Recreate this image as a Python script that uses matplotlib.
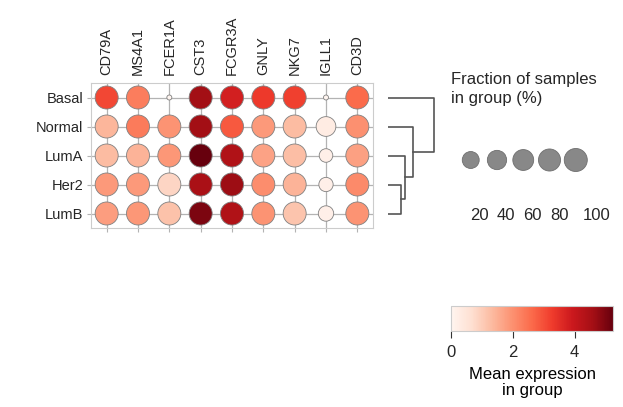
import numpy as np
import matplotlib
matplotlib.use('Agg')
import matplotlib.pyplot as plt
from matplotlib import colors
from matplotlib.colorbar import ColorbarBase

plt.rcParams['font.family'] = ['Liberation Sans', 'DejaVu Sans']
plt.rcParams['text.color'] = '#262626'
plt.rcParams['xtick.labelcolor'] = '#262626'
plt.rcParams['ytick.labelcolor'] = '#262626'

# data
genes = ['CD79A', 'MS4A1', 'FCER1A', 'CST3', 'FCGR3A', 'GNLY', 'NKG7', 'IGLL1', 'CD3D']
groups = ['Basal', 'Normal', 'LumA', 'Her2', 'LumB']

mean_expr = np.array([
    [3.1, 2.3, 0.0, 4.6, 3.8, 3.3, 3.2, 0.0, 2.6],
    [1.4, 2.35, 1.95, 4.6, 2.85, 1.85, 1.3, 0.3, 2.0],
    [1.3, 1.45, 1.9, 5.24, 4.4, 1.7, 1.25, 0.2, 1.75],
    [1.85, 1.85, 0.85, 4.5, 4.65, 2.05, 1.45, 0.2, 2.1],
    [1.8, 1.9, 1.2, 5.0, 4.4, 1.95, 1.15, 0.2, 1.95],
])
frac = np.array([
    [1.0, 1.0, 0.0, 1.0, 1.0, 1.0, 1.0, 0.0, 1.0],
    [1.0, 1.0, 1.0, 1.0, 1.0, 1.0, 1.0, 0.45, 1.0],
    [1.0, 1.0, 1.0, 1.0, 1.0, 1.0, 1.0, 0.06, 1.0],
    [1.0, 1.0, 1.0, 1.0, 1.0, 1.0, 1.0, 0.08, 1.0],
    [1.0, 1.0, 1.0, 1.0, 1.0, 1.0, 1.0, 0.12, 1.0],
])

# dendrogram merge heights: (Her2, LumB), +LumA, +Normal, +Basal
link_heights = [12.7, 17.0, 25.0, 46.0]

legend_fracs = [0.2, 0.4, 0.6, 0.8, 1.0]
vmax = 5.24
smallest, largest = 13, 275


def dot_size(f):
    return smallest + (largest - smallest) * np.asarray(f) ** 0.41


W, H = 623, 407
fig = plt.figure(figsize=(W / 100, H / 100), dpi=100)


def px_axes(x0, y0, x1, y1):
    return fig.add_axes([x0 / W, 1 - y1 / H, (x1 - x0) / W, (y1 - y0) / H])


cmap = plt.get_cmap('Reds')
norm = colors.Normalize(vmin=0, vmax=vmax)

# main dot plot
ax = px_axes(91, 83, 373, 228)
nrow, ncol = mean_expr.shape
xx, yy = np.meshgrid(np.arange(ncol), np.arange(nrow))
for i in range(ncol):
    ax.axvline(i, color='#b3b3b3', lw=0.9, zorder=0)
for j in range(nrow):
    ax.axhline(j, color='#b3b3b3', lw=0.9, zorder=0)
ax.scatter(xx.ravel(), yy.ravel(), s=dot_size(frac.ravel()),
           c=mean_expr.ravel(), cmap=cmap, norm=norm,
           edgecolors='#808080', linewidths=0.6, zorder=3)
ax.set_xlim(-0.5, ncol - 0.5)
ax.set_ylim(nrow - 0.5, -0.5)
ax.set_xticks(range(ncol))
ax.set_xticklabels(genes, rotation=90, fontsize=10.5)
ax.set_yticks(range(nrow))
ax.set_yticklabels(groups, fontsize=10.5)
ax.tick_params(axis='x', bottom=True, top=False, labelbottom=False, labeltop=True,
               length=3, color='#b3b3b3', pad=2.5)
ax.tick_params(axis='y', length=3, color='#b3b3b3', pad=2.5)
for sp in ax.spines.values():
    sp.set_color('#cccccc')

# dendrogram, drawn from merge heights
dax = px_axes(388, 83, 440, 228)
dax.set_ylim(nrow - 0.5, -0.5)
dax.set_xlim(0, 52)
dax.axis('off')
lc = '#555555'
nodes = {g: (k, 0.0) for k, g in enumerate(groups)}
merges = [('Her2', 'LumB'), ('LumA', 'm0'), ('Normal', 'm1'), ('Basal', 'm2')]
for k, (a, b) in enumerate(merges):
    ya, ha = nodes[a]
    yb, hb = nodes[b]
    h = link_heights[k]
    dax.plot([ha, h, h, hb], [ya, ya, yb, yb], color=lc, lw=1.2)
    nodes['m%d' % k] = ((ya + yb) / 2, h)

# size legend
fig.text(451 / W, 1 - 72 / H, 'Fraction of samples\nin group (%)', fontsize=12,
         va='top', ha='left', linespacing=1.3)
sax = px_axes(457.6, 130, 588.9, 230)
sax.set_xlim(0, len(legend_fracs))
sax.set_ylim(0, 100)
lx = np.arange(len(legend_fracs)) + 0.5
sax.scatter(lx, np.full(len(lx), 70), s=dot_size(legend_fracs),
            color='#888888', edgecolors='#6e6e6e', linewidths=0.6)
label_shift = [-0.02, 0.0, 0.0, 0.02, 0.28]
for x, f, dx in zip(lx, legend_fracs, label_shift):
    sax.text(x + dx, 15, str(int(f * 100)), ha='left', va='center', fontsize=12)
sax.axis('off')

# colorbar
cax = px_axes(451, 306, 613, 331)
cb = ColorbarBase(cax, cmap=cmap, norm=norm, orientation='horizontal')
cb.set_ticks([0, 2, 4])
cb.outline.set_edgecolor('#cccccc')
cax.tick_params(labelsize=12, length=5, color='#333333', pad=5)
cb.set_label('Mean expression\nin group', fontsize=12, linespacing=1.1, labelpad=5)

fig.savefig('out.png', dpi=100)
